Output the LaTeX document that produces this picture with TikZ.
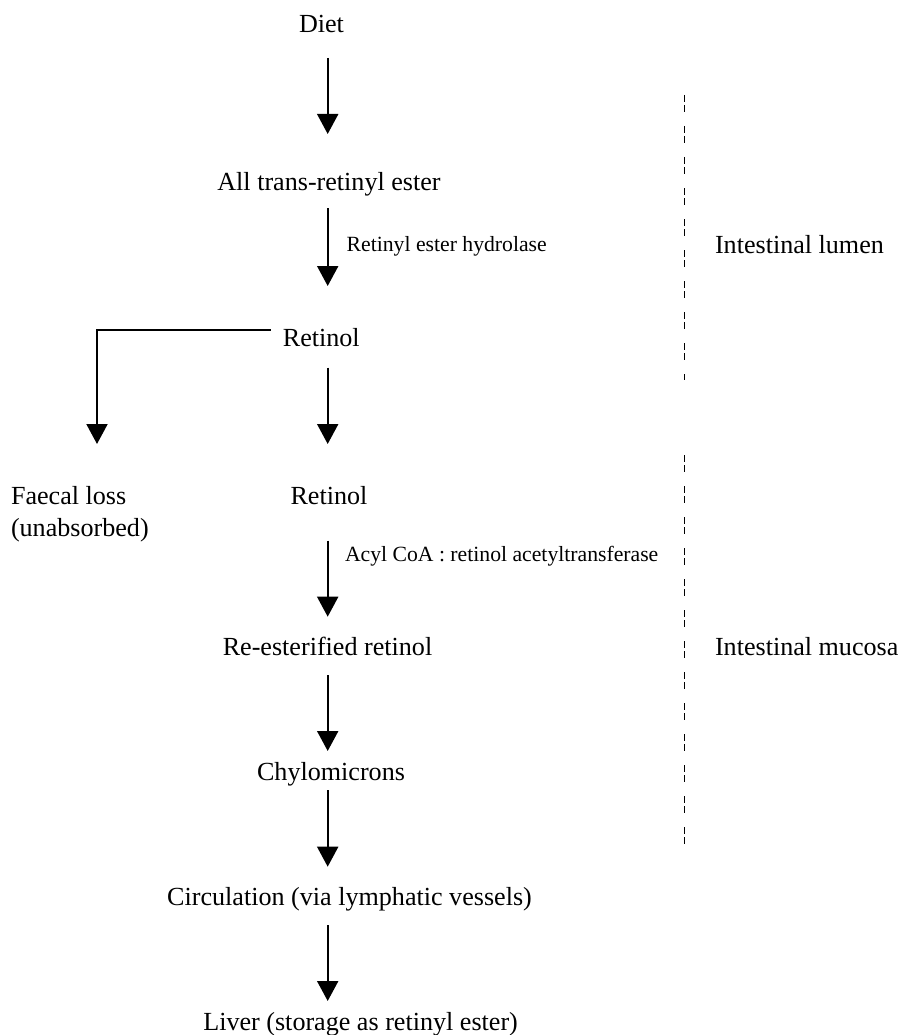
\documentclass[tikz,border=0pt]{standalone}
\usepackage{fontspec}
\setmainfont{Liberation Serif}
\usetikzlibrary{arrows.meta,calc}
\begin{document}
\begin{tikzpicture}[x=1pt,y=1pt,
  txt/.style={inner sep=0pt,outer sep=0pt,font=\fontsize{26.1}{32}\selectfont},
  lbl/.style={inner sep=0pt,outer sep=0pt,font=\fontsize{21.7}{26}\selectfont,anchor=base west},
  arr/.style={line width=2pt,-{Triangle[width=21pt,length=20pt]}},
  sep/.style={line width=0.9pt,dash pattern=on 7pt off 3pt on 7pt off 14pt}]
\useasboundingbox (0,0) rectangle (902,-1035);
\coordinate (ax) at (327.7,0);
% main nodes
\node[txt,anchor=base] (diet) at (321.5,-33) {Diet};
\node[txt,anchor=base] (alltrans) at (329,-190) {All trans-retinyl ester};
\node[txt,anchor=base] (r1) at (321.3,-346.7) {Retinol};
\node[txt,anchor=base] (r2) at (329,-504) {Retinol};
\node[txt,anchor=base west,align=left] (faecal) at (11,-536) {Faecal loss\\(unabsorbed)};
\node[txt,anchor=base] (reest) at (327.5,-655) {Re-esterified retinol};
\node[txt,anchor=base] (chylo) at (331,-780) {Chylomicrons};
\node[txt,anchor=base] (circ) at (349.5,-905) {Circulation (via lymphatic vessels)};
\node[txt,anchor=base] (liver) at (360.6,-1030) {Liver (storage as retinyl ester)};
% enzyme labels
\node[lbl] (hydro) at (346.7,-251) {Retinyl ester hydrolase};
\node[lbl] (acyl) at (345,-561.7) {Acyl CoA : retinol acetyltransferase};
% compartments
\node[txt,anchor=base west] (lumen) at (715,-253) {Intestinal lumen};
\node[txt,anchor=base west] (mucosa) at (715,-655) {Intestinal mucosa};
\draw[sep] (684,-95) -- (684,-380);
\draw[sep] (684,-455) -- (684,-845);
% arrows
\draw[arr] ($(diet.base -| ax)+(0,-25)$) -- ($(alltrans.base -| ax)+(0,56)$);
\draw[arr] ($(alltrans.base -| ax)+(0,-18)$) -- ($(r1.base -| ax)+(0,60.7)$);
\draw[arr] ($(r1.base -| ax)+(0,-21)$) -- ($(r2.base -| ax)+(0,60)$);
\coordinate (ftip) at (97,-444);
\draw[arr] ($(r1.base west)+(-12,16.7)$) -| (ftip);
\draw[arr] ($(r2.base -| ax)+(0,-36.7)$) -- ($(reest.base -| ax)+(0,38.3)$);
\draw[arr] ($(reest.base -| ax)+(0,-20)$) -- ($(chylo.base -| ax)+(0,29)$);
\draw[arr] ($(chylo.base -| ax)+(0,-10)$) -- ($(circ.base -| ax)+(0,38.3)$);
\draw[arr] ($(circ.base -| ax)+(0,-20)$) -- ($(liver.base -| ax)+(0,29)$);
\end{tikzpicture}
\end{document}
